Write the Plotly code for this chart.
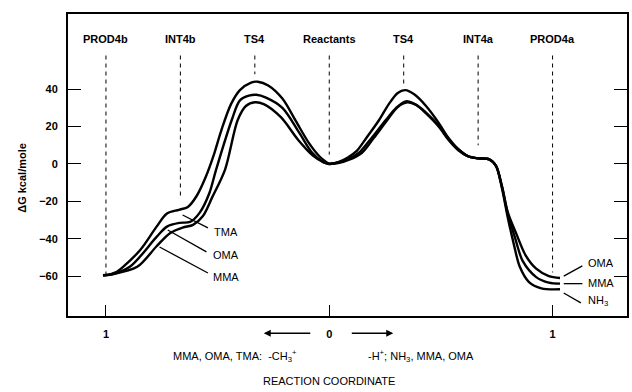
import plotly.graph_objects as go

# ---------------- data (reaction coordinate units: -3 = PROD4b, 0 = Reactants, 3 = PROD4a) -------------
tma_x = [-3.04, -2.97, -2.87, -2.77, -2.54, -2.32, -2.18, -2.02, -1.90, -1.78, -1.66, -1.55, -1.45, -1.32,
         -1.20, -1.05, -0.96, -0.82, -0.63, -0.45, -0.27, -0.13, 0.0]
tma_g = [-59.5, -59.3, -58, -55, -46, -33.5, -26.5, -24.5, -23, -17, -7, 5, 18, 32,
         39.5, 43.5, 44, 42, 35, 23, 11, 4, 0]

oma_l_x = [-3.04, -2.95, -2.68, -2.32, -2.18, -2.01, -1.87, -1.74, -1.61, -1.52, -1.31, -1.20, -1.08,
           -0.98, -0.85, -0.63, -0.40, -0.23, -0.08, 0.0]
oma_l_g = [-59.5, -59.3, -55, -39, -33.5, -31.5, -31, -26, -15.5, -3, 23.5, 34, 36.5,
           37, 35.5, 30, 16.5, 6, 1, 0]

mma_l_x = [-3.04, -2.92, -2.58, -2.32, -2.14, -1.97, -1.83, -1.70, -1.57, -1.40, -1.23, -1.12, -1.00,
           -0.88, -0.65, -0.42, -0.22, -0.08, 0.0]
mma_l_g = [-59.5, -59, -55, -44, -37, -34, -32.6, -28, -17.6, -3, 23.5, 31, 33,
           32, 25, 13, 4.5, 1, 0]

oma_r_x = [0.0, 0.12, 0.25, 0.37, 0.50, 0.67, 0.80, 0.92, 1.02, 1.15, 1.30, 1.47, 1.60, 1.73, 1.87,
           2.00, 2.15, 2.24, 2.32, 2.40, 2.51, 2.64, 2.78, 2.95, 3.10]
oma_r_g = [0, 1, 3.5, 7, 14, 23.5, 32, 38, 39.5, 37, 31, 22, 14, 8, 4,
           3, 2.5, -1, -12, -26, -37, -49, -56, -60, -61]

mma_r_x = [0.0, 0.12, 0.25, 0.40, 0.55, 0.76, 0.90, 1.03, 1.15, 1.30, 1.47, 1.60, 1.73, 1.87,
           2.00, 2.15, 2.24, 2.32, 2.40, 2.50, 2.60, 2.78, 2.95, 3.10]
mma_r_g = [0, 0.8, 2.5, 6, 13, 23.5, 30, 33.5, 32, 27.5, 20.5, 13.5, 8, 4,
           3, 2.5, -1, -12, -27, -40, -52, -60.5, -63.5, -64]

nh3_x = [0.0, 0.12, 0.25, 0.44, 0.60, 0.78, 0.92, 1.05, 1.17, 1.30, 1.47, 1.60, 1.73, 1.87,
         2.00, 2.15, 2.24, 2.32, 2.40, 2.48, 2.56, 2.68, 2.85, 3.10]
nh3_g = [0, 0.5, 2, 6, 14, 23.5, 30.5, 33, 31.5, 27, 20, 13, 7.5, 4,
         3, 2.5, -1, -13, -29, -43, -55, -63, -66.5, -67]

state_x = [-3, -2, -1, 0, 1, 2, 3]
state_names = ["PROD4b", "INT4b", "TS4", "Reactants", "TS4", "INT4a", "PROD4a"]
state_line_end = [-59.5, -17.6, 48, 5, 43, 10, -58]

y_ticks = [-60, -40, -20, 0, 20, 40]
x_ticks = [-3, 0, 3]
x_tick_text = ["1", "0", "1"]

# curve labels: (text, leader start x, start y, end x, end y, text x, text y)
left_labels = [("TMA", -1.97, -27.3, -1.63, -34.2, -1.58, -36.4),
               ("OMA", -2.17, -35.3, -1.65, -47.0, -1.59, -48.7),
               ("MMA", -2.28, -44.4, -1.63, -58.3, -1.59, -60.4)]
right_labels = [("OMA", 3.15, -60.0, 3.40, -54.5, 3.45, -53.0),
                ("MMA", 3.15, -64.0, 3.40, -64.0, 3.45, -63.8),
                ("NH<sub>3</sub>", 3.15, -69.0, 3.38, -74.3, 3.45, -73.5)]

FONT = "Liberation Sans, Arial, sans-serif"

fig = go.Figure()
for xs, ys in [(tma_x, tma_g), (oma_l_x, oma_l_g), (mma_l_x, mma_l_g),
               (oma_r_x, oma_r_g), (mma_r_x, mma_r_g), (nh3_x, nh3_g)]:
    fig.add_trace(go.Scatter(x=xs, y=ys, mode="lines",
                             line=dict(color="black", width=2.4, shape="spline", smoothing=0.9),
                             showlegend=False, hoverinfo="skip"))

# dashed state lines and their labels
for sx, name, yend in zip(state_x, state_names, state_line_end):
    fig.add_shape(type="line", xref="x", yref="y", x0=sx, x1=sx, y0=58, y1=yend,
                  line=dict(color="black", width=1, dash="4px,4px"))
    fig.add_annotation(x=sx, y=67, xref="x", yref="y", text=name, showarrow=False,
                       font=dict(family=FONT, size=11, color="black", weight="bold"))

for text, x0, y0, x1, y1, tx, ty in left_labels + right_labels:
    fig.add_shape(type="line", xref="x", yref="y", x0=x0, y0=y0, x1=x1, y1=y1,
                  line=dict(color="black", width=1.3))
    fig.add_annotation(x=tx, y=ty, xref="x", yref="y", text=text, showarrow=False,
                       xanchor="left", font=dict(family=FONT, size=11, color="black"))

# arrows around the 0 label
ROW1 = -0.057
ROW2 = -0.132
ROW3 = -0.215
fig.add_annotation(x=-0.88, y=ROW1, xref="x", yref="paper", text="", showarrow=True,
                   ax=48, ay=0, arrowhead=2, arrowsize=1, arrowwidth=1.4, arrowcolor="black")
fig.add_annotation(x=0.86, y=ROW1, xref="x", yref="paper", text="", showarrow=True,
                   ax=-43, ay=0, arrowhead=2, arrowsize=1, arrowwidth=1.4, arrowcolor="black")

fig.add_annotation(x=-1.27, y=ROW2, xref="x", yref="paper", yanchor="middle",
                   text="MMA, OMA, TMA:  -CH<sub>3</sub><sup>+</sup>", showarrow=False,
                   font=dict(family=FONT, size=11, color="black"))
fig.add_annotation(x=1.23, y=ROW2, xref="x", yref="paper", yanchor="middle",
                   text="-H<sup>+</sup>; NH<sub>3</sub>, MMA, OMA", showarrow=False,
                   font=dict(family=FONT, size=11, color="black"))
fig.add_annotation(x=0.0, y=ROW3, xref="x", yref="paper", yanchor="middle",
                   text="REACTION COORDINATE", showarrow=False,
                   font=dict(family=FONT, size=11, color="black"))
fig.add_annotation(x=-0.097, y=0.457, xref="paper", yref="paper", text="ΔG kcal/mole",
                   textangle=-90, showarrow=False,
                   font=dict(family=FONT, size=11, color="black", weight="bold"))

fig.update_layout(
    width=632, height=392,
    margin=dict(l=68, r=3, t=14, b=76),
    paper_bgcolor="white", plot_bgcolor="white",
    showlegend=False,
    font=dict(family=FONT, size=11, color="black"),
    xaxis=dict(range=[-3.51, 4.0], showgrid=False, zeroline=False,
               showline=True, linecolor="black", linewidth=2, mirror=True,
               ticks="inside", ticklen=11, tickwidth=1.2, tickcolor="black",
               tickvals=x_ticks, ticktext=x_tick_text, ticklabelstandoff=7,
               tickfont=dict(family=FONT, size=11, color="black", weight="bold")),
    yaxis=dict(range=[-81.3, 80.2], showgrid=False, zeroline=False,
               showline=True, linecolor="black", linewidth=2, mirror="ticks",
               ticks="inside", ticklen=13, tickwidth=1.2, tickcolor="black",
               tickvals=y_ticks, ticklabelstandoff=6,
               tickfont=dict(family=FONT, size=11, color="black", weight="bold")),
)

fig.write_html("out.html")
